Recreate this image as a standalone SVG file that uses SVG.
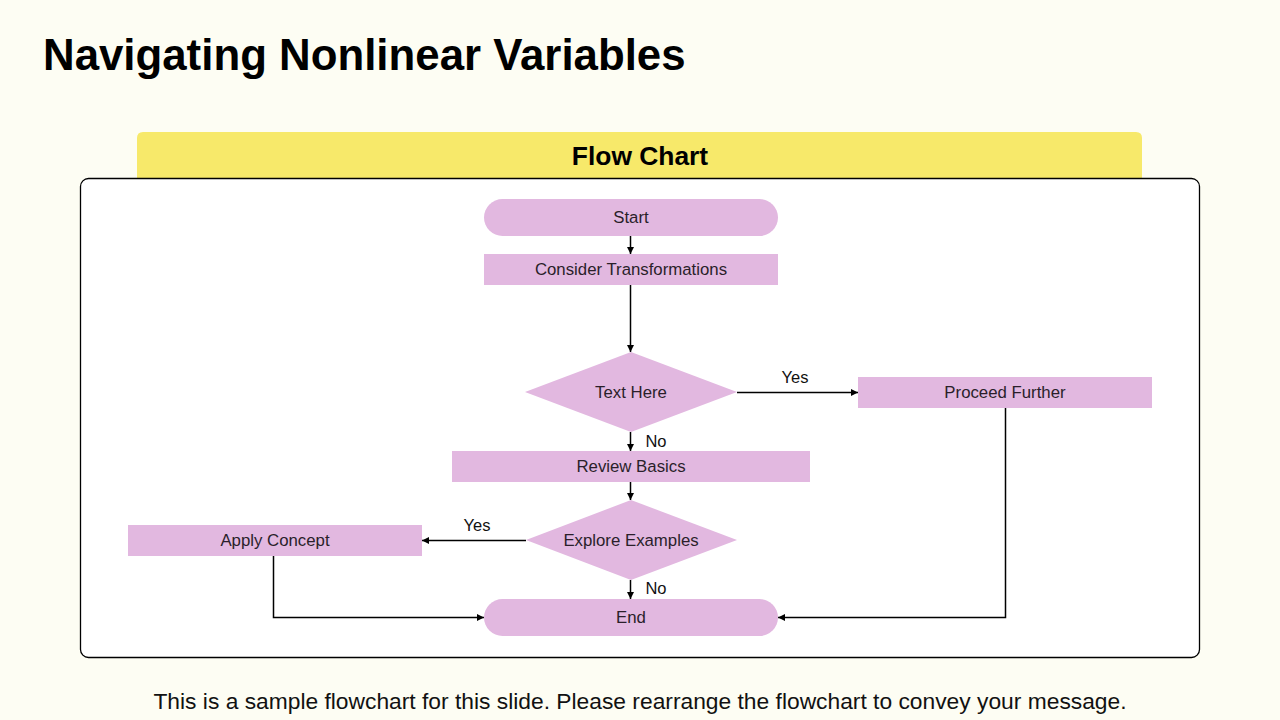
<svg xmlns="http://www.w3.org/2000/svg" width="1280" height="720" viewBox="0 0 1280 720">
<defs>
<marker id="arr" viewBox="0 0 10 10" refX="10" refY="5" markerWidth="7" markerHeight="7" markerUnits="userSpaceOnUse" orient="auto">
<path d="M0,0 L10,5 L0,10 z" fill="#000"/>
</marker>
<style>
.node{fill:#E2B8E0;}
.lbl{font-family:"Liberation Sans",Arial,sans-serif;font-size:16.8px;fill:#2a1f2a;text-anchor:middle;dominant-baseline:central;}
.edge{fill:none;stroke:#000;stroke-width:1.5;marker-end:url(#arr);}
.elbl{font-family:"Liberation Sans",Arial,sans-serif;font-size:16.5px;fill:#111;}
</style>
</defs>
<rect x="0" y="0" width="1280" height="720" fill="#FDFDF3"/>
<text x="43" y="70" font-family="Liberation Sans,Arial,sans-serif" font-weight="bold" font-size="43.8" fill="#000">Navigating Nonlinear Variables</text>
<path d="M143,132 H1136 Q1142,132 1142,138 V178 H137 V138 Q137,132 143,132 Z" fill="#F7E96A"/>
<text x="640" y="165" font-family="Liberation Sans,Arial,sans-serif" font-weight="bold" font-size="26.4" fill="#000" text-anchor="middle">Flow Chart</text>
<rect x="80.5" y="178.5" width="1119" height="479" rx="8" ry="8" fill="#FFFFFF" stroke="#000" stroke-width="1.3"/>

<g id="connectors">
<line class="edge" x1="630.5" y1="236" x2="630.5" y2="254"/>
<line class="edge" x1="630.5" y1="285" x2="630.5" y2="352"/>
<line class="edge" x1="737" y1="392.5" x2="858" y2="392.5"/>
<line class="edge" x1="630.5" y1="432" x2="630.5" y2="451"/>
<line class="edge" x1="630.5" y1="481" x2="630.5" y2="500"/>
<line class="edge" x1="526" y1="540.5" x2="422" y2="540.5"/>
<line class="edge" x1="630.5" y1="580" x2="630.5" y2="599"/>
<polyline class="edge" points="273.5,555 273.5,617.5 484,617.5"/>
<polyline class="edge" points="1005.5,407 1005.5,617.5 778,617.5"/>
<text class="elbl" x="795" y="383" text-anchor="middle">Yes</text>
<text class="elbl" x="656" y="447" text-anchor="middle">No</text>
<text class="elbl" x="477" y="531" text-anchor="middle">Yes</text>
<text class="elbl" x="656" y="594" text-anchor="middle">No</text>
</g>

<g id="start"><rect class="node" x="484" y="199" width="294" height="37" rx="18.5"/><text class="lbl" x="631" y="217.5">Start</text></g>
<g id="consider"><rect class="node" x="484" y="254" width="294" height="31"/><text class="lbl" x="631" y="269.5">Consider Transformations</text></g>
<g id="textHere"><polygon class="node" points="631,352 737,392 631,432 525,392"/><text class="lbl" x="631" y="392">Text Here</text></g>
<g id="proceed"><rect class="node" x="858" y="377" width="294" height="31"/><text class="lbl" x="1005" y="392.5">Proceed Further</text></g>
<g id="review"><rect class="node" x="452" y="451" width="358" height="31"/><text class="lbl" x="631" y="466.5">Review Basics</text></g>
<g id="explore"><polygon class="node" points="631,500 737,540 631,580 526,540"/><text class="lbl" x="631" y="540.5">Explore Examples</text></g>
<g id="apply"><rect class="node" x="128" y="525" width="294" height="31"/><text class="lbl" x="275" y="540.5">Apply Concept</text></g>
<g id="end"><rect class="node" x="484" y="599" width="294" height="37" rx="18.5"/><text class="lbl" x="631" y="617.5">End</text></g>

<text x="640" y="709" font-family="Liberation Sans,Arial,sans-serif" font-size="22.8" fill="#111" text-anchor="middle">This is a sample flowchart for this slide. Please rearrange the flowchart to convey your message.</text>
</svg>
